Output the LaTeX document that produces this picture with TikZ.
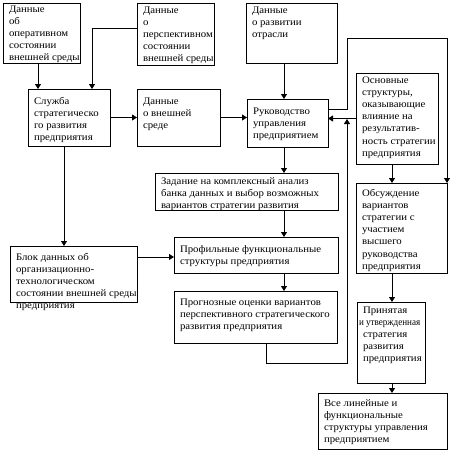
\documentclass[tikz,border=0pt]{standalone}
\usepackage{fontspec}
\usepackage{graphicx}
\setmainfont{Liberation Serif}[FakeStretch=1.08]
\usetikzlibrary{arrows.meta}
\newcommand\bx[4]{\parbox[c][#2pt][t]{#1pt}{\vspace*{#3pt}\hspace*{6pt}\begin{tabular}[t]{@{}l@{}}#4\end{tabular}}}
\begin{document}
\begin{tikzpicture}[x=1pt,y=-1pt,
  box/.style={draw,line width=0.8pt,inner sep=0pt,outer sep=0pt,anchor=north west,
    font=\fontsize{10}{12.2}\selectfont},
  arr/.style={line width=0.8pt,-{Triangle[length=5pt,width=6pt]}}]
\useasboundingbox (0,0) rectangle (457,450);
\node[box] (n1) at (3,3) {\bx{77}{60}{0.5}{Данные\\об\\оперативном\\состоянии\\внешней среды}};
\node[box] (n2) at (137,3) {\bx{77}{62}{1.5}{Данные\\о\\перспективном\\состоянии\\внешней среды}};
\node[box] (n3) at (246,3) {\bx{91}{60}{1.5}{Данные\\о развитии\\отрасли}};
\node[box] (n4) at (28,89) {\bx{82}{57}{6.5}{Служба\\стратегическо\\го развития\\предприятия}};
\node[box] (n5) at (137,89) {\bx{83}{57}{6.5}{Данные\\о внешней\\среде}};
\node[box] (n6) at (247,99) {\bx{81}{48}{6.5}{Руководство\\управления\\предприятием}};
\node[box] (n7) at (356,73) {\bx{82}{91}{1.5}{Основные\\структуры,\\оказывающие\\влияние на\\результатив-\\ность стратегии\\предприятия}};
\node[box] (n8) at (356,183) {\bx{91}{90}{4.5}{Обсуждение\\вариантов\\стратегии с\\участием\\высшего\\руководства\\предприятия}};
\node[box] (n9) at (155,173) {\bx{183}{37}{3}{Задание на комплексный анализ\\банка данных и выбор возможных\\вариантов стратегии развития}};
\node[box] (n10) at (174,237) {\bx{164}{36}{6.5}{Профильные функциональные\\структуры предприятия}};
\node[box] (n11) at (174,291) {\bx{163}{52}{5.5}{Прогнозные оценки вариантов\\перспективного стратегического\\развития предприятия}};
\node[box] (n12) at (10,246) {\bx{127}{56}{5.5}{Блок данных об\\организационно-\\технологическом\\состоянии внешней среды\\предприятия}};
\node[box] (n13) at (357,302) {\bx{68}{81}{2.5}{Принятая\\\hspace*{-4pt}\scalebox{0.84}[1]{и утвержденная}\\стратегия\\развития\\предприятия}};
\node[box] (n14) at (318,393) {\bx{129}{56}{4.5}{Все линейные и\\функциональные\\структуры управления\\предприятием}};
\coordinate (loopTop) at (347,38);
\coordinate (fb1) at (347,363);
\coordinate (fb2) at (347,119);
\draw[arr] ([xshift=35pt]n1.south west) -- ([xshift=35pt]n1.south west |- n4.north);
\draw[arr] ([yshift=-25pt]n2.north west) -| ([xshift=64pt]n4.north west);
\draw[arr] (n4.east) -- (n4.east -| n5.west);
\draw[arr] (n5.east) -- (n5.east -| n6.west);
\draw[arr] ([xshift=38pt]n3.south west) -- ([xshift=38pt]n3.south west |- n6.north);
\draw[arr] ([xshift=37pt]n6.south west) -- ([xshift=37pt]n6.south west |- n9.north);
\draw[arr] ([xshift=129pt]n9.south west) -- ([xshift=129pt]n9.south west |- n10.north);
\draw[arr] ([xshift=110pt]n10.south west) -- ([xshift=110pt]n10.south west |- n11.north);
\draw[arr] ([yshift=-10pt]n6.north east) -| (loopTop) -| (n8.north east);
\draw[arr] (n7.west) -- (n7.west -| n6.east);
\draw[arr] ([xshift=92pt]n11.south west) |- (fb1) -- (fb2);
\draw[arr] ([xshift=36pt]n7.south west) -- ([xshift=36pt]n7.south west |- n8.north);
\draw[arr] ([xshift=36pt]n8.south west) -- ([xshift=36pt]n8.south west |- n13.north);
\draw[arr] ([xshift=35pt]n13.south west) -- ([xshift=35pt]n13.south west |- n14.north);
\draw[arr] ([xshift=36pt]n4.south west) -- ([xshift=36pt]n4.south west |- n12.north);
\draw[arr] ([yshift=-11pt]n12.north east) -- ([yshift=-11pt]n12.north east -| n10.west);
\end{tikzpicture}
\end{document}
